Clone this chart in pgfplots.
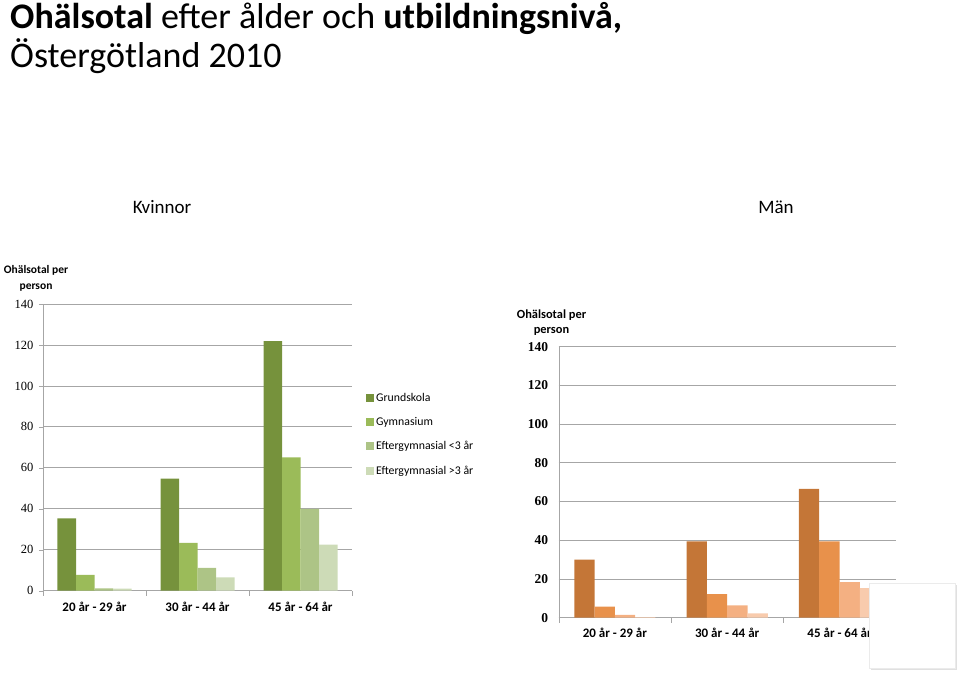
\documentclass[border=0pt]{standalone}
\usepackage{fontspec}
\setmainfont{Carlito}
\newfontfamily\serifnum{Liberation Serif}
\usepackage{pgfplots}
\pgfplotsset{compat=1.18}
\definecolor{kA}{HTML}{76923C}
\definecolor{kB}{HTML}{9BBB59}
\definecolor{kC}{HTML}{ADC486}
\definecolor{kD}{HTML}{CDDBB7}
\definecolor{mA}{HTML}{C47637}
\definecolor{mB}{HTML}{E8914B}
\definecolor{mC}{HTML}{F4B082}
\definecolor{mD}{HTML}{F8CBAD}
\definecolor{gridc}{HTML}{A6A6A6}
\pgfplotsset{
  common/.style={
    scale only axis,
    anchor=south west,
    xmin=-0.5, xmax=2.5, ymin=0, ymax=140,
    ytick={0,20,...,140},
    xtick={0,1,2},
    xticklabels={20 år - 29 år, 30 år - 44 år, 45 år - 64 år},
    minor xtick={-0.5,0.5,1.5,2.5},
    axis lines*=left,
    axis line style={gridc},
    ymajorgrids,
    grid style={gridc, line width=0.8pt},
    tick align=outside,
    major tick length=4pt,
    minor tick length=5pt,
    major x tick style={draw=none},
    minor x tick style={gridc},
    major y tick style={gridc},
    /pgf/number format/assume math mode=true,
    ybar, 
    clip=false,
  },
}
\begin{document}
\begin{tikzpicture}[x=1pt,y=1pt]
\path[use as bounding box] (0,0) rectangle (960,676);
% Title
\node[anchor=base west, inner sep=0pt, font=\fontsize{36}{36}\selectfont] at (10,647) {\textbf{Ohälsotal} efter ålder och \textbf{utbildningsnivå,}};
\node[anchor=base west, inner sep=0pt, font=\fontsize{36}{36}\selectfont] at (10,608) {Östergötland 2010};
\node[anchor=base, inner sep=0pt, font=\fontsize{19}{19}\selectfont] at (162,462) {Kvinnor};
\node[anchor=base, inner sep=0pt, font=\fontsize{19}{19}\selectfont] at (776,462) {Män};

% Kvinnor
\begin{axis}[common,
  at={(43pt,85.3pt)}, width=309pt, height=286.7pt,
  yticklabel style={font=\serifnum\fontsize{12.5}{12.5}\selectfont, xshift=-2pt},
  xticklabel style={font=\bfseries\fontsize{13}{13}\selectfont, yshift=-4pt},
  legend style={at={(1.045,0.697)}, anchor=north west, draw=none, fill=none,
    font=\fontsize{11.8}{11.8}\selectfont, row sep=10.5pt, cells={anchor=west},
    inner sep=0pt},
  legend image code/.code={\fill[#1,draw=none] (0pt,-4pt) rectangle (8pt,4pt);},
]
\addplot[fill=kA, draw=none, bar width=18.5pt, bar shift=-27.75pt] coordinates {(0,35.3) (1,54.7) (2,121.9)};
\addplot[fill=kB, draw=none, bar width=18.5pt, bar shift=-9.25pt] coordinates {(0,7.7) (1,23.4) (2,65.1)};
\addplot[fill=kC, draw=none, bar width=18.5pt, bar shift=9.25pt] coordinates {(0,1.1) (1,11.2) (2,39.9)};
\addplot[fill=kD, draw=none, bar width=18.5pt, bar shift=27.75pt] coordinates {(0,1.0) (1,6.5) (2,22.5)};
\legend{Grundskola, Gymnasium, Eftergymnasial <3 år, Eftergymnasial >3 år}
\end{axis}

% Män
\begin{axis}[common,
  at={(558.7pt,58.3pt)}, width=337pt, height=271pt,
  yticklabel style={font=\serifnum\bfseries\fontsize{13.5}{13.5}\selectfont, xshift=-3pt},
  xticklabel style={font=\bfseries\fontsize{13}{13}\selectfont, yshift=-3pt},
  major y tick style={draw=none},
]
\addplot[fill=mA, draw=none, bar width=20.3pt, bar shift=-30.45pt] coordinates {(0,30.0) (1,39.4) (2,66.5)};
\addplot[fill=mB, draw=none, bar width=20.3pt, bar shift=-10.15pt] coordinates {(0,5.7) (1,12.2) (2,39.4)};
\addplot[fill=mC, draw=none, bar width=20.3pt, bar shift=10.15pt] coordinates {(0,1.4) (1,6.4) (2,18.4)};
\addplot[fill=mD, draw=none, bar width=20.3pt, bar shift=30.45pt] coordinates {(0,0.3) (1,2.2) (2,15.3)};
\end{axis}

% y labels
\node[align=center, inner sep=0pt, font=\bfseries\fontsize{11.5}{16}\selectfont] at (36,397.3) {Ohälsotal per\\person};
\node[align=center, inner sep=0pt, font=\bfseries\fontsize{12.4}{15}\selectfont] at (551.5,353.5) {Ohälsotal per\\person};

% overlay box
\fill[black!12] (871,6) rectangle (957,91);
\fill[white, draw=black!8] (869,8) rectangle (955,93);
\end{tikzpicture}
\end{document}
